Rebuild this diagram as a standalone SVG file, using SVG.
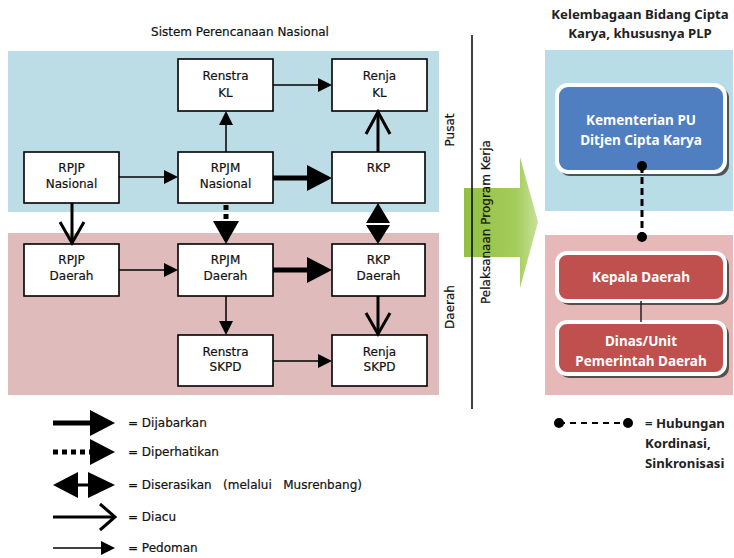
<svg xmlns="http://www.w3.org/2000/svg" width="734" height="558" viewBox="0 0 734 558">
<defs>
<style>
.box{fill:#fff;stroke:#000;stroke-width:1.6}
.t{font-family:"DejaVu Sans","Liberation Sans",sans-serif;font-size:12px;fill:#111;text-anchor:middle;stroke:#111;stroke-width:0.2}
.lt{font-family:"DejaVu Sans","Liberation Sans",sans-serif;font-size:12px;fill:#111;stroke:#111;stroke-width:0.2}
.b{font-family:"Noto Sans","Liberation Sans",sans-serif;font-weight:bold;font-size:13.2px;fill:#222}
.w{font-family:"Noto Sans","Liberation Sans",sans-serif;font-weight:bold;font-size:13.5px;fill:#fff;text-anchor:middle}
.thin{stroke:#000;stroke-width:1.5;fill:none}
.thick{stroke:#000;stroke-width:5;fill:none}
.acu{stroke:#000;stroke-width:3;fill:none}
.dot{stroke:#000;stroke-width:5;fill:none;stroke-dasharray:5,4}
.hd{fill:#000}
.shadow{fill:#333;opacity:0.8}
.rb{stroke:#fff;stroke-width:4}
</style>
<linearGradient id="g" x1="0" y1="0" x2="1" y2="0">
<stop offset="0" stop-color="#93c044"/>
<stop offset="0.7" stop-color="#a4cc5a"/>
<stop offset="1" stop-color="#c6e29a"/>
</linearGradient>
</defs>

<g id="panels">
<rect x="8" y="51" width="431" height="161" fill="#bddde6"/>
<rect x="8" y="233" width="431" height="162" fill="#e0bbbb"/>
<rect x="545" y="50" width="188" height="161" fill="#b8dde7"/>
<rect x="545" y="235" width="188" height="160" fill="#e6b9b8"/>
</g>

<g id="titles">
<text class="t" x="240" y="36" font-size="11.7">Sistem Perencanaan Nasional</text>
<text class="b" x="640" y="19" text-anchor="middle">Kelembagaan Bidang Cipta</text>
<text class="b" x="640" y="38" text-anchor="middle">Karya, khususnya PLP</text>
<text class="t" transform="translate(454,130) rotate(-90)">Pusat</text>
<text class="t" transform="translate(454,307) rotate(-90)">Daerah</text>
</g>

<g id="green-arrow">
<polygon points="464,188 520,188 520,157 538,222 520,288 520,257 464,257" fill="url(#g)"/>
<line x1="472" y1="35" x2="472" y2="409" stroke="#000" stroke-width="1.5"/>
<text class="t" transform="translate(490,222) rotate(-90)" font-size="11.5">Pelaksanaan Program Kerja</text>
</g>

<g id="renstra-kl"><rect class="box" x="178" y="59" width="95" height="52"/><text class="t" x="225.5" y="80">Renstra</text><text class="t" x="225.5" y="97">KL</text></g>
<g id="renja-kl"><rect class="box" x="332" y="59" width="95" height="52"/><text class="t" x="379.5" y="80">Renja</text><text class="t" x="379.5" y="97">KL</text></g>
<g id="rpjp-nasional"><rect class="box" x="24" y="152" width="95" height="51"/><text class="t" x="71.5" y="172">RPJP</text><text class="t" x="71.5" y="188">Nasional</text></g>
<g id="rpjm-nasional"><rect class="box" x="178" y="152" width="95" height="51"/><text class="t" x="225.5" y="172">RPJM</text><text class="t" x="225.5" y="188">Nasional</text></g>
<g id="rkp"><rect class="box" x="332" y="152" width="93" height="51"/><text class="t" x="378.5" y="172">RKP</text></g>
<g id="rpjp-daerah"><rect class="box" x="24" y="244" width="95" height="52"/><text class="t" x="71.5" y="264">RPJP</text><text class="t" x="71.5" y="280">Daerah</text></g>
<g id="rpjm-daerah"><rect class="box" x="178" y="244" width="95" height="52"/><text class="t" x="225.5" y="264">RPJM</text><text class="t" x="225.5" y="280">Daerah</text></g>
<g id="rkp-daerah"><rect class="box" x="332" y="244" width="93" height="52"/><text class="t" x="378.5" y="264">RKP</text><text class="t" x="378.5" y="280">Daerah</text></g>
<g id="renstra-skpd"><rect class="box" x="178" y="335" width="95" height="51"/><text class="t" x="225.5" y="356">Renstra</text><text class="t" x="225.5" y="371">SKPD</text></g>
<g id="renja-skpd"><rect class="box" x="332" y="335" width="95" height="51"/><text class="t" x="379.5" y="356">Renja</text><text class="t" x="379.5" y="371">SKPD</text></g>

<g id="kementerian">
<rect class="shadow" x="559" y="87" width="170" height="89" rx="11"/>
<rect class="rb" x="557" y="85" width="168" height="87" rx="11" fill="#4f7fc1"/>
<text class="w" x="641" y="125">Kementerian PU</text>
<text class="w" x="641" y="145">Ditjen Cipta Karya</text>
</g>
<g id="kepala-daerah">
<rect class="shadow" x="559" y="255" width="170" height="50" rx="10"/>
<rect class="rb" x="557" y="253" width="168" height="48" rx="10" fill="#c0504d"/>
<text class="w" x="641" y="282">Kepala Daerah</text>
</g>
<g id="dinas">
<rect class="shadow" x="559" y="324" width="170" height="54" rx="10"/>
<rect class="rb" x="557" y="322" width="168" height="52" rx="10" fill="#c0504d"/>
<text class="w" x="641" y="346">Dinas/Unit</text>
<text class="w" x="641" y="366">Pemerintah Daerah</text>
</g>

<g id="connectors">
<line class="thin" x1="119" y1="177" x2="166" y2="177"/><polygon class="hd" points="178,177 164,170 164,184"/>
<line class="thin" x1="273" y1="85" x2="320" y2="85"/><polygon class="hd" points="332,85 318,78 318,92"/>
<line class="thin" x1="226" y1="152" x2="226" y2="123"/><polygon class="hd" points="226,111 219,125 233,125"/>
<line class="thin" x1="119" y1="270" x2="166" y2="270"/><polygon class="hd" points="178,270 164,263 164,277"/>
<line class="thin" x1="226" y1="296" x2="226" y2="323"/><polygon class="hd" points="226,335 219,321 233,321"/>
<line class="thin" x1="273" y1="361" x2="320" y2="361"/><polygon class="hd" points="332,361 318,354 318,368"/>
<line class="thick" x1="273" y1="178" x2="310" y2="178"/><polygon class="hd" points="332,178 307,165 307,191"/>
<line class="thick" x1="273" y1="270" x2="310" y2="270"/><polygon class="hd" points="332,270 307,257 307,283"/>
<line class="acu" x1="378" y1="152" x2="378" y2="112"/><polyline class="acu" points="366,134 378,112 390,134"/>
<line class="acu" x1="72" y1="203" x2="72" y2="243"/><polyline class="acu" points="60,222 72,243 84,222"/>
<line class="acu" x1="378" y1="296" x2="378" y2="334"/><polyline class="acu" points="366,313 378,334 390,313"/>
<line class="dot" x1="226" y1="205" x2="226" y2="222"/><polygon class="hd" points="226,244 213,221 239,221"/>
<polygon class="hd" points="378,203 366,223 390,223"/><polygon class="hd" points="378,244 366,225 390,225"/>
<line x1="642" y1="166" x2="642" y2="237" stroke="#000" stroke-width="3" stroke-dasharray="7,4"/>
<circle cx="642" cy="166" r="5"/><circle cx="642" cy="237" r="5"/>
<line x1="641" y1="301" x2="641" y2="322" stroke="#222" stroke-width="1.5"/>
</g>

<g id="legend">
<line class="thick" x1="53" y1="423" x2="92" y2="423"/><polygon class="hd" points="115,423 90,410 90,436"/>
<text class="lt" x="128" y="427">= Dijabarkan</text>
<line class="dot" x1="53" y1="452" x2="90" y2="452"/><polygon class="hd" points="115,452 90,439 90,465"/>
<text class="lt" x="128" y="456">= Diperhatikan</text>
<line x1="70" y1="485" x2="95" y2="485" stroke="#000" stroke-width="3"/>
<polygon class="hd" points="53,485 78,472 78,498"/><polygon class="hd" points="115,485 88,472 88,498"/>
<text class="lt" x="128" y="489" xml:space="preserve">= Diserasikan   (melalui   Musrenbang)</text>
<line class="acu" x1="53" y1="517" x2="113" y2="517"/><polyline class="acu" points="100,504 115,517 100,530"/>
<text class="lt" x="128" y="521">= Diacu</text>
<line class="thin" x1="53" y1="548" x2="103" y2="548"/><polygon class="hd" points="115,548 101,541 101,555"/>
<text class="lt" x="128" y="552">= Pedoman</text>
<line x1="559" y1="423" x2="628" y2="423" stroke="#000" stroke-width="2" stroke-dasharray="6,5"/>
<circle cx="559" cy="423" r="5"/><circle cx="628" cy="423" r="5"/>
<text class="b" x="645" y="428">= Hubungan</text>
<text class="b" x="645" y="448">Kordinasi,</text>
<text class="b" x="645" y="468">Sinkronisasi</text>
</g>
</svg>
